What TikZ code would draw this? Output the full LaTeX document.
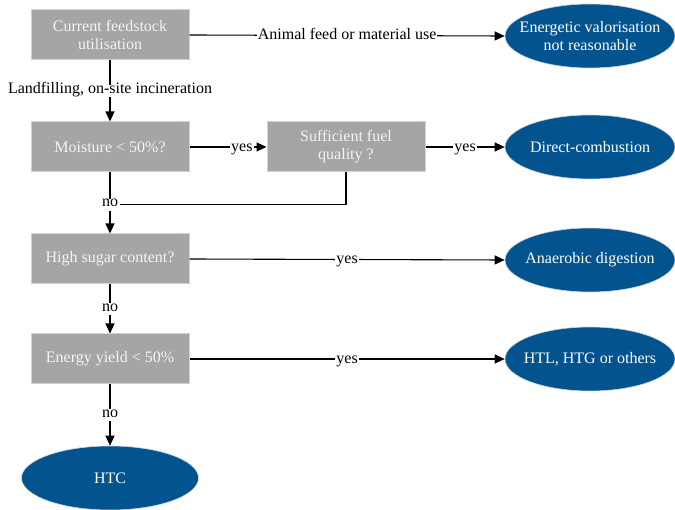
\documentclass[tikz,border=0pt]{standalone}
\usepackage{fontspec}
\setmainfont{Liberation Serif}
\usetikzlibrary{shapes.geometric,arrows.meta}
\definecolor{boxgray}{HTML}{A5A5A5}
\definecolor{boxedge}{HTML}{C9D3E0}
\definecolor{ovalblue}{HTML}{03538F}
\definecolor{boxtext}{HTML}{F4F4F4}
\begin{document}
\begin{tikzpicture}[x=1pt,y=-1pt,
  font=\fontsize{16}{18}\selectfont,
  box/.style={rectangle,fill=boxgray,draw=boxedge,line width=1pt,minimum width=158pt,minimum height=50pt,text=boxtext,align=center,inner sep=2pt},
  oval/.style={ellipse,fill=ovalblue,draw=boxedge,line width=0.6pt,minimum width=170pt,minimum height=64pt,inner sep=0pt},
  ovaltext/.style={text=white,align=center,inner sep=0pt},
  conn/.style={line width=1.1pt,draw=black},
  arr/.style={conn,-{Triangle[length=10pt,width=9pt]}},
  lab/.style={fill=white,inner sep=1pt,text=black,text height=1.5ex,text depth=0.6ex},
  hlab/.style={lab,yshift=-2pt}]
\useasboundingbox (0,0) rectangle (675,510);
\node[box] (cur) at (110,35) {Current feedstock\\utilisation};
\node[box] (moist) at (110,147) {Moisture < 50\%?};
\node[box] (fuel) at (346,147) {Sufficient fuel\\quality ?};
\node[box] (sugar) at (110,259) {High sugar content?};
\node[box] (yield) at (110,359) {Energy yield < 50\%};
\node[oval,label={[ovaltext]center:{Energetic valorisation\\not reasonable}}] (ev) at (590,36) {};
\node[oval,label={[ovaltext]center:Direct-combustion}] (dc) at (590,147) {};
\node[oval,label={[ovaltext]center:Anaerobic digestion}] (ad) at (590,260) {};
\node[oval,label={[ovaltext]center:{HTL, HTG or others}}] (htl) at (590,359) {};
\node[oval,minimum width=177pt,label={[ovaltext]center:HTC}] (htc) at (110,478) {};

\draw[arr] (cur.east) -- node[hlab,pos=0.5] {Animal feed or material use} (ev.west);
\draw[arr] (cur.south) -- node[lab,pos=0.5] {Landfilling, on-site incineration} (moist.north);
\draw[arr] (moist.east) -- node[hlab,pos=0.68] {yes} (fuel.west);
\draw[arr] (fuel.east) -- node[hlab,pos=0.5] {yes} (dc.west);
\draw[arr] (moist.south) -- node[lab,pos=0.53] (no1) {no} (sugar.north);
\draw[conn] (fuel.south) |- (no1.east);
\draw[arr] (sugar.east) -- node[hlab,pos=0.5] {yes} (ad.west);
\draw[arr] (sugar.south) -- node[lab,pos=0.5] {no} (yield.north);
\draw[arr] (yield.east) -- node[hlab,pos=0.5] {yes} (htl.west);
\draw[arr] (yield.south) -- node[lab,pos=0.5] {no} (htc.north);
\end{tikzpicture}
\end{document}
